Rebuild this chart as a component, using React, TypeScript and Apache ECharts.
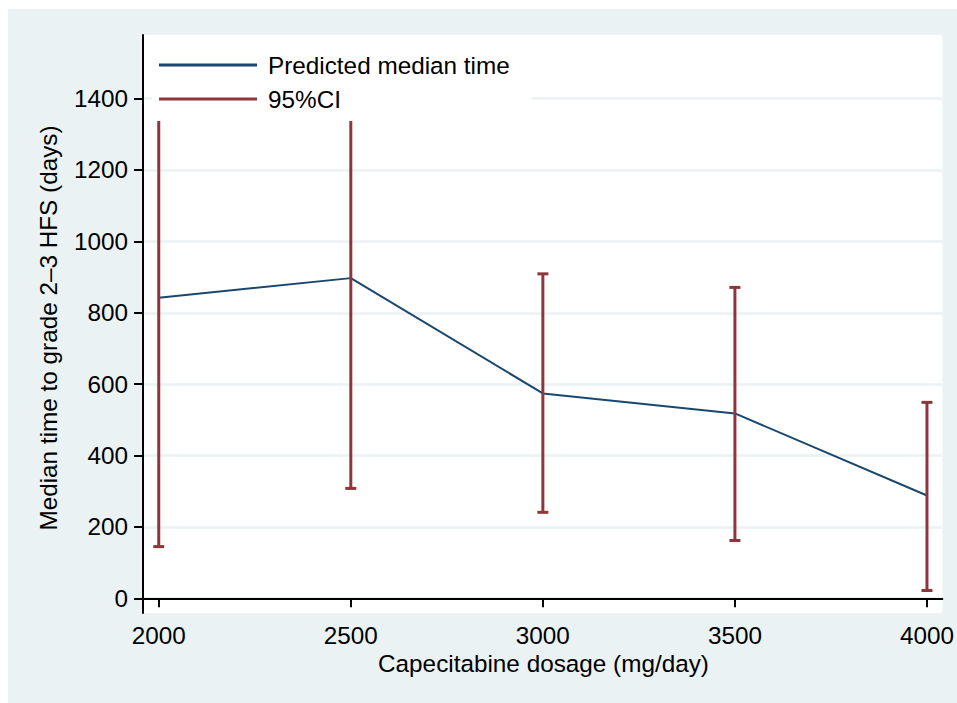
import React, { useEffect, useRef } from "react";
import * as echarts from "echarts";

const dosage = [2000, 2500, 3000, 3500, 4000];
const predicted = [842, 897, 574, 518, 288];
const ciLower = [145, 308, 241, 162, 22];
const ciUpper = [1360, 1360, 909, 871, 549];
const yTicks = [0, 200, 400, 600, 800, 1000, 1200, 1400];
const xTicks = [2000, 2500, 3000, 3500, 4000];

const NAVY = "#1a476f";
const MAROON = "#90353b";
const BG = "#eaf2f3";
const FONT = "'Liberation Sans', Arial, Helvetica, sans-serif";
const FS = 24.3;

export default function App() {
  const ref = useRef<HTMLDivElement>(null);
  useEffect(() => {
    if (!ref.current) return;
    const chart = echarts.init(ref.current, null, { renderer: "svg" });
    const lineData = dosage.map((d, i) => [d, predicted[i]]);
    const ciData = dosage.map((d, i) => [d, ciLower[i], ciUpper[i]]);
    chart.setOption({
      animation: false,
      backgroundColor: BG,
      textStyle: { fontFamily: FONT },
      grid: {
        left: 135,
        right: 12,
        top: 26,
        bottom: 90,
        show: true,
        backgroundColor: "#ffffff",
        borderWidth: 0,
      },
      legend: {
        orient: "vertical",
        left: 144,
        top: 36,
        z: 10,
        backgroundColor: "#ffffff",
        padding: [8, 22, 10, 7],
        itemWidth: 98,
        itemHeight: 3,
        itemGap: 10,
        selectedMode: false,
        textStyle: {
          fontSize: FS,
          lineHeight: 24,
          color: "#000",
          fontFamily: FONT,
          padding: [0, 0, 0, 6],
        },
        data: [
          { name: "Predicted median time", icon: "rect" },
          { name: "95%CI", icon: "rect" },
        ],
      },
      xAxis: {
        type: "value",
        min: 1959,
        max: 4040,
        axisLine: { lineStyle: { color: "#000", width: 2 } },
        axisTick: {
          length: 9,
          lineStyle: { color: "#000", width: 2 },
          customValues: xTicks,
        },
        axisLabel: {
          customValues: xTicks,
          formatter: (v: number) => String(v),
          fontSize: FS,
          color: "#000",
          fontFamily: FONT,
          margin: 10,
        },
        splitLine: { show: false },
      },
      yAxis: {
        type: "value",
        min: -41,
        max: 1578,
        axisLine: { show: true, lineStyle: { color: "#000", width: 2 } },
        axisTick: {
          show: true,
          length: 9,
          lineStyle: { color: "#000", width: 2 },
          customValues: yTicks,
        },
        axisLabel: {
          customValues: yTicks,
          formatter: (v: number) => String(v),
          fontSize: FS,
          color: "#000",
          fontFamily: FONT,
          margin: 15,
        },
        splitLine: { show: true, lineStyle: { color: BG, width: 2.5 } },
      },
      graphic: [
        {
          type: "text",
          x: 40,
          y: 319,
          rotation: Math.PI / 2,
          style: {
            text: "Median time to grade 2\u20133 HFS (days)",
            fontSize: FS,
            fontFamily: FONT,
            fill: "#000",
            align: "center",
            verticalAlign: "middle",
            textAlign: "center",
            textVerticalAlign: "middle",
          },
        },
        {
          type: "text",
          x: 535.5,
          y: 654,
          style: {
            text: "Capecitabine dosage (mg/day)",
            fontSize: FS,
            fontFamily: FONT,
            fill: "#000",
            align: "center",
            verticalAlign: "middle",
            textAlign: "center",
            textVerticalAlign: "middle",
          },
        },
      ],
      series: [
        {
          name: "Predicted median time",
          type: "line",
          data: lineData,
          color: NAVY,
          showSymbol: false,
          symbol: "none",
          lineStyle: { color: NAVY, width: 2 },
          z: 2,
        },
        {
          name: "95%CI",
          type: "custom",
          data: ciData,
          itemStyle: { color: MAROON },
          color: MAROON,
          z: 3,
          renderItem: (params: any, api: any) => {
            const x = api.value(0);
            const lo = api.coord([x, api.value(1)]);
            const hi = api.coord([x, api.value(2)]);
            const hw = 5.5;
            const style = { stroke: MAROON, lineWidth: 3, fill: "none" };
            return {
              type: "group",
              children: [
                { type: "line", shape: { x1: lo[0], y1: lo[1], x2: hi[0], y2: hi[1] }, style },
                { type: "line", shape: { x1: lo[0] - hw, y1: lo[1], x2: lo[0] + hw, y2: lo[1] }, style },
                { type: "line", shape: { x1: hi[0] - hw, y1: hi[1], x2: hi[0] + hw, y2: hi[1] }, style },
              ],
            };
          },
        },
      ],
    });
    return () => chart.dispose();
  }, []);
  return (
    <div
      ref={ref}
      style={{ position: "absolute", left: 8, top: 9, width: 949, height: 694 }}
    />
  );
}
